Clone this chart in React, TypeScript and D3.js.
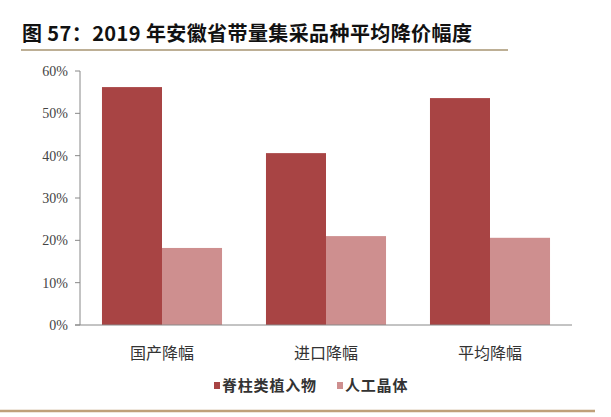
import React from "react";
import { scaleBand, scaleLinear } from "d3";

const categories = ["国产降幅", "进口降幅", "平均降幅"];
const seriesNames = ["脊柱类植入物", "人工晶体"];
const spine = [56.2, 40.6, 53.6];
const lens = [18.2, 21.0, 20.6];
const yTicks = [0, 10, 20, 30, 40, 50, 60];

const colors = ["#A84444", "#CE8F8F"];
const W = 611;
const H = 417;

export default function App() {
  const x = scaleBand<string>()
    .domain(categories)
    .range([80, 572])
    .paddingInner(0.268)
    .paddingOuter(0.134);
  const inner = scaleBand<string>()
    .domain(seriesNames)
    .range([0, x.bandwidth()]);
  const y = scaleLinear().domain([0, 60]).range([325, 71]);
  const series = [spine, lens];

  return (
    <div style={{ position: "fixed", left: 0, top: 0 }}>
      <svg width={W} height={H} style={{ display: "block", background: "#fff" }}>
        <text
          x={22}
          y={41}
          fontFamily="'Noto Sans CJK SC', sans-serif"
          fontWeight="bold"
          fontSize={20}
          letterSpacing={0.4}
          fill="#111"
        >
          图 57：2019 年安徽省带量集采品种平均降价幅度
        </text>
        <line x1={21} x2={508} y1={50} y2={50} stroke="#BDAF95" strokeWidth={2} />

        {/* bars */}
        {series.map((vals, si) =>
          categories.map((c, ci) => (
            <rect
              key={`${si}-${ci}`}
              x={(x(c) ?? 0) + (inner(seriesNames[si]) ?? 0)}
              y={y(vals[ci])}
              width={inner.bandwidth()}
              height={y(0) - y(vals[ci])}
              fill={colors[si]}
            />
          ))
        )}

        {/* y axis */}
        <line x1={80} x2={80} y1={y(60)} y2={y(0)} stroke="#888" strokeWidth={1} />
        {yTicks.map((t) => (
          <g key={t}>
            <line x1={75} x2={80} y1={y(t)} y2={y(t)} stroke="#888" />
            <text
              x={68}
              y={y(t)}
              dy="0.35em"
              textAnchor="end"
              fontFamily="'Liberation Serif', serif"
              fontSize={14}
              fill="#444"
            >
              {t}%
            </text>
          </g>
        ))}
        <line x1={75} x2={572} y1={y(0)} y2={y(0)} stroke="#888" strokeWidth={1} />

        {categories.map((c) => (
          <text
            key={c}
            x={(x(c) ?? 0) + x.bandwidth() / 2}
            y={359}
            textAnchor="middle"
            fontFamily="'Noto Sans CJK SC', sans-serif"
            fontSize={16}
            fill="#333"
          >
            {c}
          </text>
        ))}

        {/* legend */}
        {seriesNames.map((s, i) => {
          const lx = [214, 337][i];
          return (
            <g key={s}>
              <rect x={lx} y={382} width={6} height={7} fill={colors[i]} />
              <text
                x={lx + 8}
                y={391}
                fontFamily="'Noto Sans CJK SC', sans-serif"
                fontWeight="bold"
                fontSize={15}
                letterSpacing={0.8}
                fill="#333"
              >
                {s}
              </text>
            </g>
          );
        })}
        <line x1={0} x2={595} y1={411} y2={411} stroke="#BFA07A" strokeWidth={2.5} />
      </svg>
    </div>
  );
}
